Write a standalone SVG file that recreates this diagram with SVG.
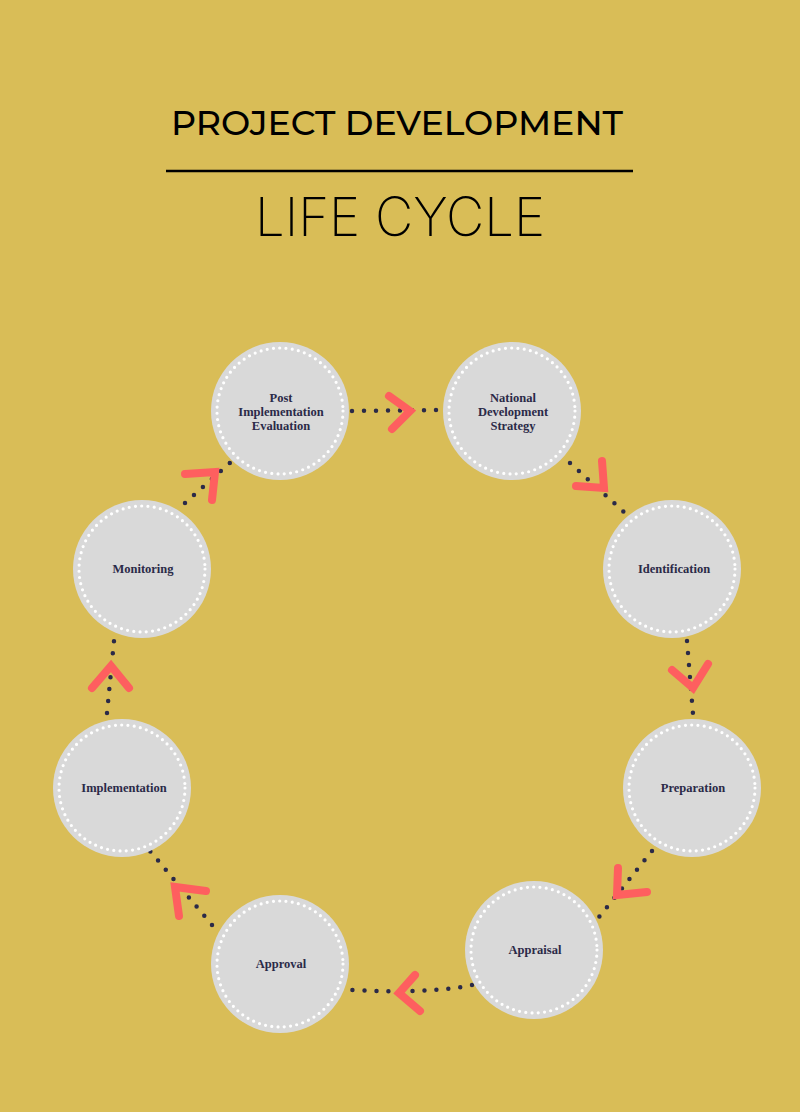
<svg xmlns="http://www.w3.org/2000/svg" width="800" height="1112" viewBox="0 0 800 1112">
<style>
.node{fill:#d9d9d9}
.ring{fill:none;stroke:#ffffff;stroke-width:3.2;stroke-dasharray:0 6.3;stroke-linecap:round}
.lbl{font-family:"Liberation Serif",serif;font-weight:bold;font-size:12.5px;fill:#2b2a48;text-anchor:middle}
.dots{fill:none;stroke:#2b2a48;stroke-width:4.5;stroke-linecap:round;stroke-dasharray:0 12}
.chev{fill:none;stroke:#fe5f5f;stroke-width:8;stroke-linecap:round;stroke-linejoin:miter}
</style>
<rect width="800" height="1112" fill="#d9bd57"/>
<g id="title">
<text x="397" y="135" font-family="Montserrat,Inter,'Noto Sans',sans-serif" font-weight="500" font-size="34" text-anchor="middle" textLength="452" lengthAdjust="spacingAndGlyphs" fill="#000">PROJECT DEVELOPMENT</text>
<line x1="166" y1="171" x2="633" y2="171" stroke="#000" stroke-width="2.5"/>
<text x="400" y="236" font-family="Inter,Lato,sans-serif" font-weight="200" font-size="54" text-anchor="middle" textLength="290" lengthAdjust="spacingAndGlyphs" fill="#000">LIFE CYCLE</text>
</g>
<g id="connectors">
<line class="dots" x1="352" y1="411" x2="440" y2="410"/>
<polyline class="chev" points="389,396 410,411 392,429"/>
<line class="dots" x1="570" y1="463" x2="624" y2="512"/>
<polyline class="chev" points="602,461 604,488 576,486"/>
<line class="dots" x1="687" y1="641" x2="693" y2="714"/>
<polyline class="chev" points="672,670 693,688 708,664"/>
<line class="dots" x1="652" y1="851" x2="599" y2="917"/>
<polyline class="chev" points="618,868 617,895 647,892"/>
<path class="dots" d="M472,985 Q430,994 352,990"/>
<polyline class="chev" points="415,975 399,993 420,1011"/>
<line class="dots" x1="212" y1="925" x2="150" y2="851"/>
<polyline class="chev" points="206,891 175,887 179,916"/>
<line class="dots" x1="107" y1="713" x2="114" y2="641"/>
<polyline class="chev" points="92,688 111,666 129,688"/>
<line class="dots" x1="185" y1="503" x2="231" y2="462"/>
<polyline class="chev" points="185,474 215,472 212,500"/>
</g>
<g id="node-post">
<circle class="node" cx="280" cy="411" r="69"/>
<circle class="ring" cx="280" cy="411" r="63"/>
<text class="lbl" x="281" y="402">Post</text>
<text class="lbl" x="281" y="416">Implementation</text>
<text class="lbl" x="281" y="430">Evaluation</text>
</g>
<g id="node-national">
<circle class="node" cx="512" cy="411" r="69"/>
<circle class="ring" cx="512" cy="411" r="63"/>
<text class="lbl" x="513" y="402">National</text>
<text class="lbl" x="513" y="416">Development</text>
<text class="lbl" x="513" y="430">Strategy</text>
</g>
<g id="node-identification">
<circle class="node" cx="672" cy="569" r="69"/>
<circle class="ring" cx="672" cy="569" r="63"/>
<text class="lbl" x="674" y="573">Identification</text>
</g>
<g id="node-preparation">
<circle class="node" cx="692" cy="788" r="69"/>
<circle class="ring" cx="692" cy="788" r="63"/>
<text class="lbl" x="693" y="792">Preparation</text>
</g>
<g id="node-appraisal">
<circle class="node" cx="534" cy="950" r="69"/>
<circle class="ring" cx="534" cy="950" r="63"/>
<text class="lbl" x="535" y="954">Appraisal</text>
</g>
<g id="node-approval">
<circle class="node" cx="280" cy="964" r="69"/>
<circle class="ring" cx="280" cy="964" r="63"/>
<text class="lbl" x="281" y="968">Approval</text>
</g>
<g id="node-implementation">
<circle class="node" cx="122" cy="788" r="69"/>
<circle class="ring" cx="122" cy="788" r="63"/>
<text class="lbl" x="124" y="792">Implementation</text>
</g>
<g id="node-monitoring">
<circle class="node" cx="142" cy="569" r="69"/>
<circle class="ring" cx="142" cy="569" r="63"/>
<text class="lbl" x="143" y="573">Monitoring</text>
</g>
</svg>
